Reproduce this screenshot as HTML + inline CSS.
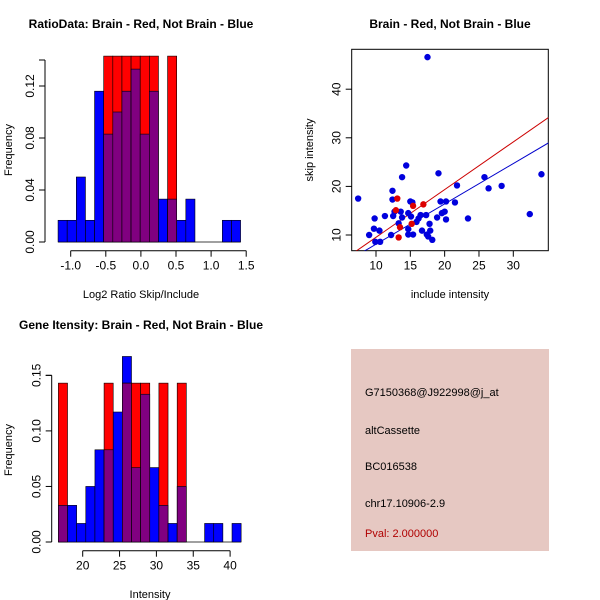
<!DOCTYPE html>
<html><head><meta charset="utf-8"><style>
body{margin:0;background:#fff;}
svg{display:block;font-family:"Liberation Sans",sans-serif;}
</style></head><body>
<svg id="c" width="600" height="600" xmlns="http://www.w3.org/2000/svg">
<rect x="351" y="349" width="198" height="202" fill="#e6c8c2"/>
<text x="365" y="396" font-size="11">G7150368@J922998@j_at</text>
<text x="365" y="434" font-size="11">altCassette</text>
<text x="365" y="470" font-size="11">BC016538</text>
<text x="365" y="507" font-size="11">chr17.10906-2.9</text>
<text x="365" y="537" font-size="11" fill="#b00000">Pval: 2.000000</text>
</svg>
<script>
// Ratio histogram data
const ratioBins = [-1.18,-1.05,-0.92,-0.79,-0.66,-0.53,-0.40,-0.27,-0.14,-0.01,0.12,0.25,0.38,0.51,0.64,0.77,0.90,1.03,1.16,1.29,1.42];
const ratioBlue = [0.0167,0.0167,0.05,0.0167,0.116,0.083,0.1,0.116,0.133,0.083,0.116,0.033,0.033,0.0167,0.033,0,0,0,0.0167,0.0167];
const ratioRed  = [0,0,0,0,0,0.143,0.143,0.143,0.143,0.143,0.143,0,0.143,0,0,0,0,0,0,0];
const ratioXTicks = [-1.0,-0.5,0.0,0.5,1.0,1.5];
const ratioYTicks = [0.00,0.04,0.08,0.12];
// Intensity histogram data
const intBins = [16.7,17.94,19.18,20.42,21.66,22.9,24.14,25.38,26.62,27.86,29.1,30.34,31.58,32.82,34.06,35.3,36.54,37.78,39.02,40.26,41.5];
const intBlue = [0.033,0.033,0.0167,0.05,0.083,0.083,0.117,0.167,0.067,0.133,0.067,0.033,0.0167,0.05,0,0,0.0167,0.0167,0,0.0167];
const intRed  = [0.143,0,0,0,0,0.143,0,0.143,0.143,0.143,0,0.143,0,0.143,0,0,0,0,0,0];
const intXTicks = [20,25,30,35,40];
const intYTicks = [0.00,0.05,0.10,0.15];
// Scatter data
const blueX = [7.4,17.5,14.4,13.8,19.1,12.4,12.4,9.8,9.0,9.7,9.9,10.5,10.6,11.3,12.2,12.5,12.7,13.3,13.6,13.8,14.7,14.7,14.7,15.0,15.3,15.1,15.4,15.9,16.2,16.5,16.7,17.3,17.4,17.6,17.8,17.9,18.2,18.9,19.6,19.4,20.0,20.2,20.2,21.5,21.8,23.4,25.8,26.4,28.3,32.4,34.1];
const blueY = [17.5,46.6,24.3,21.9,22.7,19.1,17.3,13.4,10.0,11.3,8.6,10.9,8.6,13.9,10.0,13.9,14.8,12.4,14.8,13.6,14.5,11.2,10.1,16.9,16.7,13.8,10.1,12.7,13.4,14.1,10.9,14.1,10.1,9.7,12.3,10.9,9.0,13.6,14.5,16.9,14.8,16.9,13.2,16.7,20.2,13.4,21.9,19.6,20.1,14.3,22.5];
const redX = [13.1,12.9,13.5,13.3,15.2,15.4,16.9];
const redY = [17.5,15.1,11.6,9.5,12.3,16.0,16.3];
const fitRed = [0.981,-0.28];
const fitBlue = [0.83,-0.2];
const scXTicks = [10,15,20,25,30];
const scYTicks = [10,20,30,40];

const svg = document.getElementById('c');
const NS = 'http://www.w3.org/2000/svg';
function mk(tag, attrs, parent){const e=document.createElementNS(NS,tag);for(const k in attrs)e.setAttribute(k,attrs[k]);(parent||svg).appendChild(e);return e;}
function txt(x,y,s,size,extra){const e=mk('text',Object.assign({x:x,y:y,'font-size':size,'text-anchor':'middle'},extra||{}));e.textContent=s;return e;}

function hist(o){
  const sx=v=>o.x0+(v-o.d0)*o.kx, sy=v=>o.y0-v*o.ky;
  const base=mk('line',{x1:sx(o.bins[0]),x2:sx(o.bins[o.bins.length-1]),y1:o.y0,y2:o.y0,stroke:'#000','stroke-width':0.8});
  
  
  for(let i=0;i<o.blue.length;i++){
    const xa=sx(o.bins[i]), xb=sx(o.bins[i+1]);
    const r=o.red[i], b=o.blue[i];
    if(r>0){const e=mk('rect',{x:xa,y:sy(r),width:xb-xa,height:r*o.ky,fill:'#ff0000',stroke:'#000','stroke-width':0.6});
      
      }
    if(b>0){const col=r>0?'#800080':'#0000ff';
      const hb=r>0?Math.min(r,b):b;
      if(r>0&&b>r){const e2=mk('rect',{x:xa,y:sy(b),width:xb-xa,height:(b-r)*o.ky,fill:'#0000ff',stroke:'#000','stroke-width':0.6});
        
        }
      const e=mk('rect',{x:xa,y:sy(hb),width:xb-xa,height:hb*o.ky,fill:col,stroke:'#000','stroke-width':0.6});
      
      }
  }
  const xt=o.xticks;
  mk('line',{x1:sx(xt[0]),x2:sx(xt[xt.length-1]),y1:o.axY,y2:o.axY,stroke:'#000'});
  xt.forEach(t=>{mk('line',{x1:sx(t),x2:sx(t),y1:o.axY,y2:o.axY+6,stroke:'#000'});
    const l=txt(sx(t),o.axY+19,o.fmtX(t),12);
    
    });
  const yt=o.yticks;
  mk('line',{x1:o.axX,x2:o.axX,y1:sy(yt[0]),y2:sy(o.ymax),stroke:'#000'});
  yt.concat([o.ymax]).forEach(t=>{mk('line',{x1:o.axX,x2:o.axX-6,y1:sy(t),y2:sy(t),stroke:'#000'});});
  yt.forEach(t=>{const l=txt(0,0,t.toFixed(2),12,{transform:`translate(${o.axX-11},${sy(t)}) rotate(-90)`});
    
    });
  const xl=txt(o.xlabX,o.xlabY,o.xlab,11);
  
  
  const yl=txt(0,0,'Frequency',11,{transform:`translate(12,${o.ylabY}) rotate(-90)`});
  
  
  const ti=txt(o.titleX,o.titleY,o.title,12,{'font-weight':'bold'});
  
  
}
hist({name:'ratio-hist',bins:ratioBins,blue:ratioBlue,red:ratioRed,x0:140.9,d0:0,kx:70.2,y0:242,ky:1300,
  xticks:ratioXTicks,yticks:ratioYTicks,ymax:0.14,axY:250.7,axX:45,fmtX:t=>t.toFixed(1),
  xlab:'Log2 Ratio Skip/Include',xlabX:141,xlabY:298,ylabY:150,title:'RatioData: Brain - Red, Not Brain - Blue',titleX:141,titleY:28});
hist({name:'intensity-hist',bins:intBins,blue:intBlue,red:intRed,x0:82.7,d0:20,kx:7.37,y0:542,ky:1111,
  xticks:intXTicks,yticks:intYTicks,ymax:0.15,axY:550.7,axX:51.7,fmtX:t=>String(t),
  xlab:'Intensity',xlabX:150,xlabY:598,ylabY:450,title:'Gene Itensity: Brain - Red, Not Brain - Blue',titleX:141,titleY:329});

// Scatter
const L=351.7,R=548.3,T=49.3,B=250.7;
const sx=v=>376+(v-10)*6.865, sy=v=>235-(v-10)*4.86;
const frame=mk('rect',{x:L,y:T,width:R-L,height:B-T,fill:'none',stroke:'#000'});


const cp=mk('clipPath',{id:'cp'});mk('rect',{x:L,y:T,width:R-L,height:B-T},cp);
const g=mk('g',{'clip-path':'url(#cp)'});
[[fitRed,'#cc0000','red-fit-line'],[fitBlue,'#0000cc','blue-fit-line']].forEach(([f,c,n])=>{
  const x1=0,x2=40;const e=mk('line',{x1:sx(x1),y1:sy(f[0]*x1+f[1]),x2:sx(x2),y2:sy(f[0]*x2+f[1]),stroke:c,'stroke-width':1},g);
  
  });
blueX.forEach((x,i)=>{const e=mk('circle',{cx:sx(x),cy:sy(blueY[i]),r:3.2,fill:'#0000dd'},g);
  
  });
redX.forEach((x,i)=>{const e=mk('circle',{cx:sx(x),cy:sy(redY[i]),r:3.2,fill:'#dd0000'},g);
  
  });
scXTicks.forEach(t=>{mk('line',{x1:sx(t),x2:sx(t),y1:B,y2:B+6,stroke:'#000'});
  const l=txt(sx(t),B+19,String(t),12);
  
  });
scYTicks.forEach(t=>{mk('line',{x1:L,x2:L-6,y1:sy(t),y2:sy(t),stroke:'#000'});
  const l=txt(0,0,String(t),12,{transform:`translate(${L-11},${sy(t)}) rotate(-90)`});
  
  });
const sxl=txt(450,298,'include intensity',11);


const syl=txt(0,0,'skip intensity',11,{transform:'translate(313,150) rotate(-90)'});


const st=txt(450,28,'Brain - Red, Not Brain - Blue',12,{'font-weight':'bold'});


</script>
</body></html>
